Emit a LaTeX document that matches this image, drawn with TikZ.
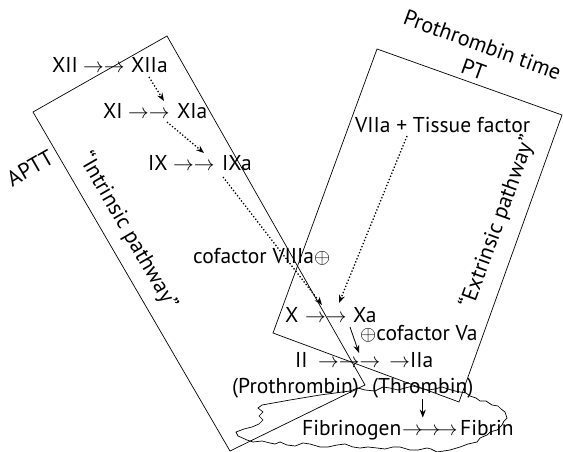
\documentclass[tikz,border=0pt]{standalone}
\usepackage{fontspec}
\setmainfont{PT Sans}
\usetikzlibrary{arrows.meta,calc}
\begin{document}
\begin{tikzpicture}[x=1pt,y=-1pt,
  lbl/.style={inner sep=0pt, anchor=base west, font=\fontsize{21.5}{25}\selectfont},
  arr/.style={inner sep=0pt, anchor=base west, font=\fontsize{20}{24}\selectfont},
  rot/.style={inner sep=0pt, anchor=center, font=\fontsize{22}{26}\selectfont},
  dotarrow/.style={dotted, line width=1.3pt, -{Stealth[length=8pt,width=6pt]}},
  solarrow/.style={line width=0.8pt, -{Stealth[length=8pt,width=6pt]}},
  boxline/.style={line width=0.7pt}]
\useasboundingbox (0,0) rectangle (563,452);
% frames
\draw[boxline] (167,36) -- (33,112) -- (230,451) -- (365,385) -- cycle;
\draw[boxline] (377,49) -- (562,115) -- (459,402) -- (273,333) -- cycle;
% cloud
\draw[boxline] (253,442) -- (247,440) -- (238,436) -- (236,432) -- (244,429) -- (252,427) -- (259,424) -- (263,420) -- (259,416) -- (263,412) -- (258,408) -- (262,405) -- (290,400) -- (320,395) -- (350,391) -- (358,388) -- (365,390) -- (375,391) -- (383,387) -- (390,388) -- (398,390) -- (405,388) -- (413,386) -- (420,388) -- (428,390) -- (435,389) -- (442,387) -- (448,389) -- (455,391) -- (460,392) -- (466,393) -- (470,396) -- (476,398) -- (480,401) -- (486,401) -- (492,405) -- (498,406) -- (501,409) -- (505,412) -- (507,418) -- (504,421) -- (502,425) -- (497,430) -- (490,432) -- (487,435) -- (480,438) -- (477,442) -- (468,444) -- (460,447) -- (450,450) -- (437,452) -- (431,449) -- (427,448) -- (418,450) -- (410,450) -- (400,447) -- (393,447) -- (385,449) -- (377,448) -- (368,447) -- (360,448) -- (353,447) -- (345,444) -- (337,445) -- (328,447) -- (320,447) -- (310,444) -- (303,443) -- (295,446) -- (287,445) -- (280,442) -- (275,444) -- (270,443) -- (262,441) -- cycle;
% labels
\node[lbl] (xii) at (52,73) {XII};
\node[arr] (xiiar) at (83,73) {$\rightarrow\rightarrow$};
\node[lbl] (xiia) at (131,73) {XIIa};
\node[lbl] (xi) at (103,118) {XI};
\node[arr] (xiar) at (128,118) {$\rightarrow\rightarrow$};
\node[lbl] (xia) at (177,118) {XIa};
\node[lbl] (ix) at (148,170) {IX};
\node[arr] (ixar) at (173,170) {$\rightarrow\rightarrow$};
\node[lbl] (ixa) at (222,170) {IXa};
\node[lbl] (viia) at (355,132) {VIIa + Tissue factor};
\node[lbl] (cof8) at (193,263) {cofactor VIIIa$\oplus$};
\node[lbl] (x) at (285,322) {X};
\node[arr] (xar) at (305,322) {$\rightarrow\rightarrow$};
\node[lbl] (xa) at (353,322) {Xa};
\node[lbl] (cof5) at (360,340) {$\oplus$cofactor Va};
\node[lbl] (ii) at (295,367) {II};
\node[arr] (iiar) at (318,367) {$\rightarrow\rightarrow\rightarrow$\hspace{9pt}$\rightarrow$};
\node[lbl] (iia) at (410,367) {IIa};
\node[lbl] (pro) at (232,393) {(Prothrombin)};
\node[lbl] (thr) at (372,393) {(Thrombin)};
\node[lbl] (fib) at (302,435) {Fibrinogen};
\node[arr] (fibar) at (402,435) {$\rightarrow\!\rightarrow\!\rightarrow$};
\node[lbl] (fibrin) at (460,435) {Fibrin};
\node[rot, rotate=30] (aptt) at (30,168) {APTT};
\node[rot, rotate=-60] (intr) at (128,231) {“Intrinsic pathway”};
\node[rot, rotate=70] (extr) at (498,222) {“Extrinsic pathway”};
\node[rot, rotate=-20, align=center] (pt) at (478,57) {Prothrombin time\\PT};
% connectors
\draw[dotarrow] ([xshift=18pt,yshift=-4pt]xiia.base west) -- ([xshift=-13pt,yshift=17pt]xia.base west);
\draw[dotarrow] ([xshift=-10pt,yshift=-4pt]xia.base west) -- ([xshift=-18pt,yshift=17pt]ixa.base west);
\draw[dotarrow] ([xshift=1pt,yshift=-7pt]ixa.base west) -- ([xshift=-31pt,yshift=17pt]xa.base west);
\draw[dotarrow] ([xshift=52pt,yshift=-4pt]viia.base west) -- ([xshift=-14pt,yshift=19pt]xa.base west);
\draw[solarrow] ([xshift=-3pt,yshift=-5pt]xa.base west) -- ([xshift=64pt,yshift=14pt]ii.base west);
\draw[solarrow] ([yshift=-1pt]thr.south) -- ([yshift=2pt]thr.south |- fib.north);
\end{tikzpicture}
\end{document}
